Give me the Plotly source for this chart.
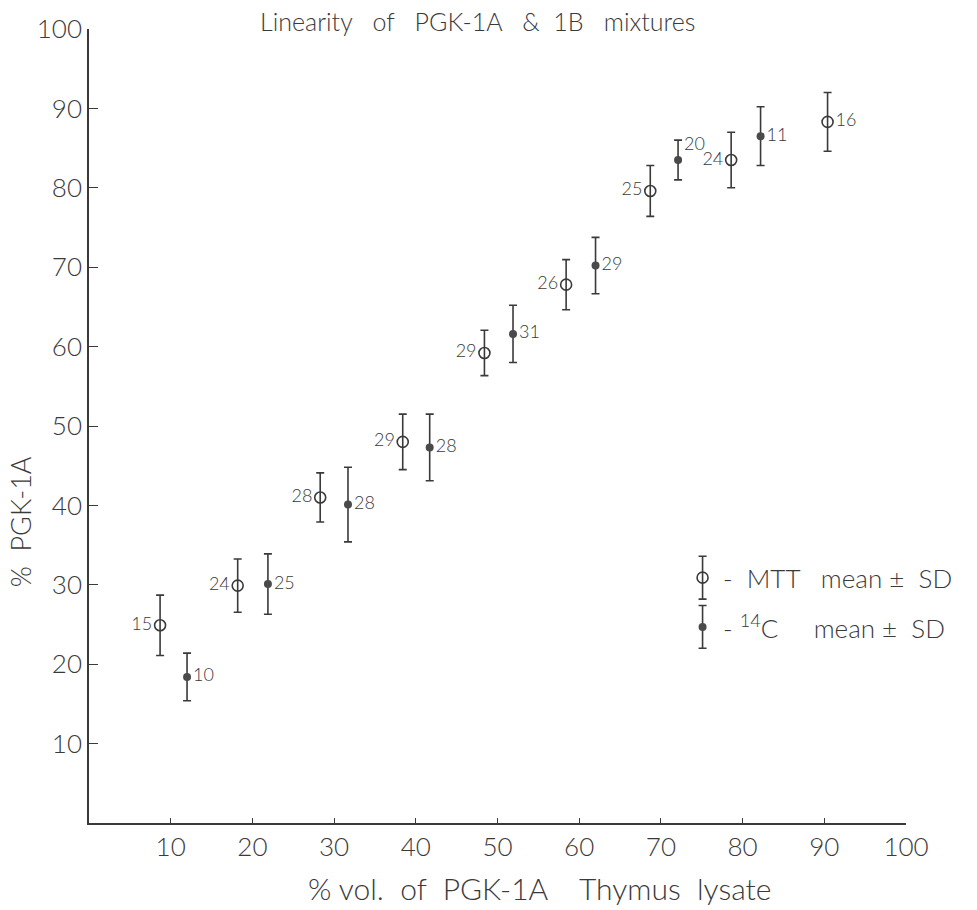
import plotly.graph_objects as go

# ---- data ----
mtt_x = [8.7, 18.2, 28.3, 38.4, 48.4, 58.4, 68.7, 78.6, 90.4]
mtt_y = [24.9, 29.9, 41.0, 48.0, 59.2, 67.8, 79.6, 83.5, 88.3]
mtt_sd = [3.8, 3.35, 3.1, 3.5, 2.85, 3.15, 3.2, 3.5, 3.7]
mtt_n = ["15", "24", "28", "29", "29", "26", "25", "24", "16"]

c14_x = [12.0, 21.9, 31.7, 41.7, 51.9, 62.0, 72.1, 82.2]
c14_y = [18.4, 30.1, 40.1, 47.3, 61.6, 70.2, 83.5, 86.5]
c14_sd = [3.0, 3.8, 4.7, 4.2, 3.6, 3.55, 2.5, 3.7]
c14_n = ["10", "25", "28", "28", "31", "29", "20", "11"]

x_ticks = [10, 20, 30, 40, 50, 60, 70, 80, 90, 100]
y_ticks = [10, 20, 30, 40, 50, 60, 70, 80, 90, 100]

# ---- styling / layout constants ----
INK = "#3a3a3a"
FONT = "Lato"
W = 300  # light weight
S = "\u00a0"  # non-collapsing space for the wide letter spacing of the original
mtt_pos = ["middle left"] * 8 + ["middle right"]
c14_pos = ["middle right"] * 6 + ["top right", "middle right"]

# legend key placement (data coordinates of the key glyphs)
KEY_X = 75.1
KEY_Y_MTT = 30.9
KEY_Y_C14 = 24.7
KEY_SD = 2.7


def f(size):
    return dict(family=FONT, size=size, color=INK, weight=W)


fig = go.Figure()

err_style = dict(type="data", visible=True, color=INK, thickness=1.6, width=4)

fig.add_trace(go.Scatter(
    x=mtt_x, y=mtt_y, mode="markers+text",
    error_y=dict(array=mtt_sd, **err_style),
    marker=dict(symbol="circle-open", size=11, color=INK, line=dict(width=1.6, color=INK)),
    text=mtt_n, textposition=mtt_pos, textfont=f(18),
    showlegend=False, cliponaxis=False,
))
fig.add_trace(go.Scatter(
    x=c14_x, y=c14_y, mode="markers+text",
    error_y=dict(array=c14_sd, **err_style),
    marker=dict(symbol="circle", size=8, color="#4a4a4a"),
    text=c14_n, textposition=c14_pos, textfont=f(18),
    showlegend=False, cliponaxis=False,
))

# legend keys
fig.add_trace(go.Scatter(
    x=[KEY_X], y=[KEY_Y_MTT], mode="markers",
    error_y=dict(array=[KEY_SD], **err_style),
    marker=dict(symbol="circle-open", size=11, color=INK, line=dict(width=1.6, color=INK)),
    showlegend=False, hoverinfo="skip",
))
fig.add_trace(go.Scatter(
    x=[KEY_X], y=[KEY_Y_C14], mode="markers",
    error_y=dict(array=[KEY_SD], **err_style),
    marker=dict(symbol="circle", size=8, color="#4a4a4a"),
    showlegend=False, hoverinfo="skip",
))

fig.add_annotation(x=KEY_X + 2.3, y=KEY_Y_MTT, xref="x", yref="y",
                   text=f"-{S}{S}MTT{S}{S}{S}mean{S}±{S}{S}SD", showarrow=False, xanchor="left",
                   font=f(26))
fig.add_annotation(x=KEY_X + 2.3, y=KEY_Y_C14, xref="x", yref="y",
                   text=f"-{S}<sup>14</sup>C{S}{S}{S}{S}{S}mean{S}±{S}{S}SD", showarrow=False,
                   xanchor="left", font=f(26))

# y-axis title (placed like the original: lower than the axis middle)
fig.add_annotation(x=-0.0845, y=0.38, xref="paper", yref="paper",
                   text=f"%{S}{S}PGK-1A", textangle=-90, showarrow=False,
                   xanchor="center", yanchor="middle", font=f(27))

# x-axis title (offset to the right as in the original)
fig.add_annotation(x=0.551, y=-0.082, xref="paper", yref="paper",
                   text=f"%{S}vol.{S}{S}of{S}{S}PGK-1A{S}{S}{S}{S}Thymus{S}{S}lysate",
                   showarrow=False, xanchor="center", yanchor="middle", font=f(30))

fig.update_layout(
    width=977, height=910,
    margin=dict(l=89, r=71, t=29, b=87),
    paper_bgcolor="white", plot_bgcolor="white",
    font=dict(family=FONT, color=INK, weight=W),
    title=dict(text=f"Linearity{S}{S}{S}of{S}{S}{S}PGK-1A{S}{S}{S}&{S}{S}1B{S}{S}{S}mixtures",
               x=0.489, xanchor="center", y=0.976, yanchor="middle",
               font=f(25)),
)
fig.update_xaxes(
    range=[0, 100], tickvals=x_ticks, ticktext=[str(v) for v in x_ticks],
    showline=True, linecolor=INK, linewidth=1.6,
    ticks="inside", ticklen=5, tickwidth=1.4, tickcolor=INK,
    showgrid=False, zeroline=False,
    tickfont=f(26),
)
fig.update_yaxes(
    range=[0, 100], tickvals=y_ticks, ticktext=[str(v) for v in y_ticks],
    showline=True, linecolor=INK, linewidth=1.6,
    ticks="inside", ticklen=9, tickwidth=1.4, tickcolor=INK,
    showgrid=False, zeroline=False,
    tickfont=f(26),
)

fig.write_html("out.html")
